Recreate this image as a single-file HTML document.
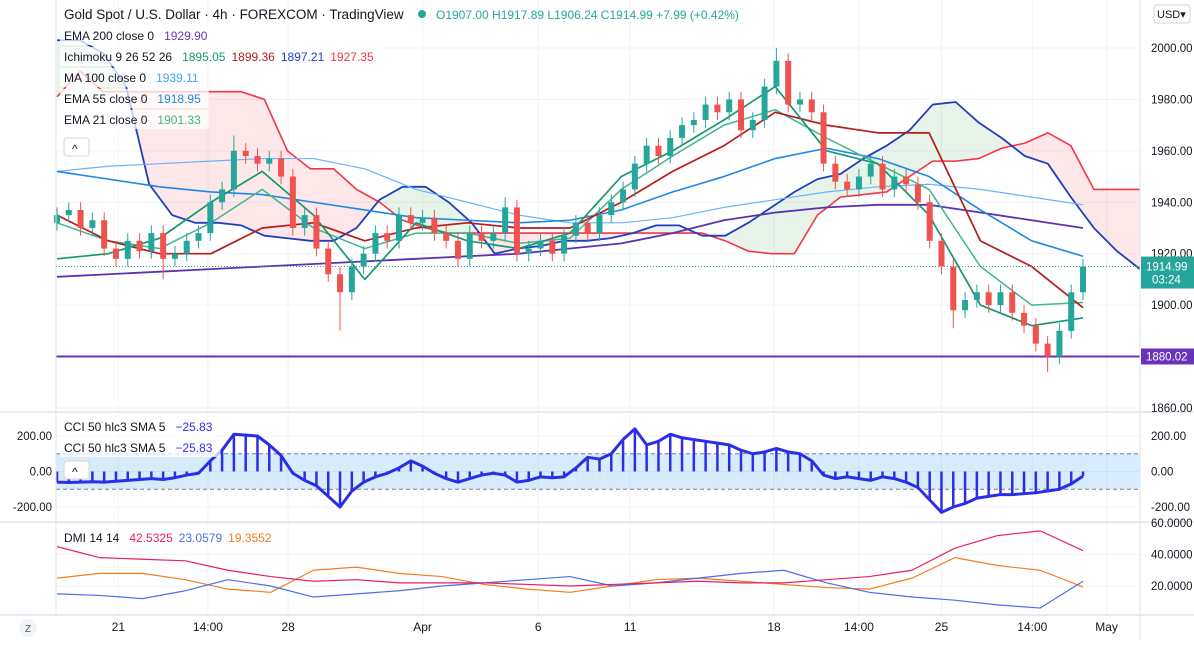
<!DOCTYPE html>
<html><head><meta charset="utf-8"><style>
html,body{margin:0;padding:0;background:#fff;}
body{width:1194px;height:640px;overflow:hidden;font-family:"Liberation Sans",sans-serif;}
svg text{font-family:"Liberation Sans",sans-serif;}
</style></head><body>
<svg id="c" width="1194" height="640" viewBox="0 0 1194 640" xmlns="http://www.w3.org/2000/svg"></svg>
<script>
// ---- data ----
const closes=[1935,1937,1930,1933,1922,1918,1925,1921,1928,1918,1920,1925,1928,1940,1945,1960,1958,1955,1957,1950,1930,1935,1922,1912,1905,1915,1920,1928,1925,1935,1932,1934,1928,1925,1918,1928,1925,1928,1938,1920,1922,1925,1920,1927,1932,1928,1935,1940,1945,1955,1962,1958,1965,1970,1972,1978,1975,1980,1968,1972,1985,1995,1978,1980,1975,1955,1948,1945,1950,1955,1945,1950,1947,1940,1925,1915,1898,1902,1905,1900,1905,1897,1892,1885,1880,1890,1905,1915];
const firstOpen=1932;
const extremeHigh={61:2000,38:1942,15:1966};
const extremeLow={24:1890,84:1874,9:1910,76:1891};
const ema200=[1911,1912,1913,1914,1915,1916,1917,1918,1919,1920,1922,1924,1928,1933,1936,1938,1939,1939,1936,1933,1930];
const ma100=[1952,1954,1955,1956,1957,1957,1953,1945,1940,1935,1932,1932,1934,1938,1941,1944,1946,1947,1945,1942,1939];
const ema55=[1952,1949,1946,1944,1943,1940,1937,1934,1933,1932,1933,1937,1944,1950,1957,1961,1957,1950,1937,1925,1919];
const ema21=[1932,1925,1922,1932,1945,1930,1922,1928,1928,1924,1926,1945,1958,1970,1976,1965,1955,1945,1915,1900,1901];
const tenkan=[1918,1920,1926,1940,1952,1935,1910,1932,1925,1922,1928,1950,1960,1972,1985,1960,1955,1935,1900,1892,1895];
const kijun=[1935,1925,1920,1920,1930,1932,1925,1930,1932,1930,1930,1940,1952,1962,1975,1970,1967,1967,1925,1915,1899];
const spanA=[2003,2003,1998,1985,1947,1935,1932,1932,1931,1927,1926,1925,1925,1930,1941,1946,1946,1940,1932,1920,1922,1923,1925,1925,1926,1928,1931,1931,1927,1927,1932,1938,1944,1949,1951,1957,1962,1968,1978,1979,1971,1965,1958,1955,1942,1930,1921,1914];
const spanB=[1981,1991,1983,1983,1983,1983,1983,1983,1983,1980,1960,1953,1953,1945,1940,1933,1930,1928,1928,1928,1928,1928,1928,1928,1928,1928,1928,1928,1928,1925,1921,1920,1920,1935,1942,1943,1944,1950,1956,1956,1957,1961,1963,1967,1962,1945,1945,1945];
const cci=[-60,-62,-60,-58,-60,-55,-50,-45,-40,-45,-35,-20,-10,60,120,210,205,200,150,90,-10,-50,-80,-140,-200,-110,-60,-30,-10,20,60,30,-10,-40,-60,-40,-20,-10,-20,-60,-50,-30,-35,-30,20,80,70,100,180,240,150,170,210,190,180,170,160,150,120,100,110,130,110,100,60,-20,-40,-30,-40,-50,-30,-40,-60,-90,-160,-230,-200,-180,-150,-140,-130,-130,-125,-120,-110,-100,-70,-26];
const diPlusRed=[45,38,37,36,30,26,23,24,22,22,22,21,20,21,22,23,22,22,24,26,30,44,52,55,42.5];
const adxBlue=[15,14,12,17,24,20,13,15,17,20,22,24,26,20,22,25,28,30,22,16,13,11,8,6,23];
const diMinusOrange=[25,28,28,24,18,16,30,32,28,26,21,18,16,20,24,25,23,21,19,18,25,38,33,30,19.4];
const priceTicks=[2000,1980,1960,1940,1920,1900,1860];
const cciTicks=[200,0,-200];
const dmiTicks=[60,40,20];
const timeLabels=["21","14:00","28","Apr","6","11","18","14:00","25","14:00","May"];
const timeIdx=[5.2,12.8,19.6,31,40.8,48.6,60.8,68,75,82.7,89];

// ---- geometry ----
const svg=document.getElementById('c');
const NS='http://www.w3.org/2000/svg';
const X0=57, X1=1083, PLOT_R=1140;
const step=(X1-X0)/(closes.length-1);
const xi=i=>X0+i*step;
const yP=p=>48+(2000-p)*2.571;
const yC=v=>471.5-v*0.1775;
const yD=v=>523+(60-v)*1.575;
function el(tag,attrs,parent){const e=document.createElementNS(NS,tag);for(const k in attrs)e.setAttribute(k,attrs[k]);(parent||svg).appendChild(e);return e;}
function txt(s,x,y,attrs,parent){const t=el('text',Object.assign({x:x,y:y,'font-size':12,fill:'#131722'},attrs),parent);t.textContent=s;return t;}
function pts(arr,x0,x1,fy){const n=arr.length;return arr.map((v,i)=>[x0+(x1-x0)*i/(n-1),fy(v)]);}
function poly(p,color,w,name){const e=el('polyline',{points:p.map(a=>a.join(',')).join(' '),fill:'none',stroke:color,'stroke-width':w,'stroke-linejoin':'round'});return e;}

// grid
const grid=el('g',{});


priceTicks.concat([1880]).forEach(p=>el('line',{x1:56,x2:PLOT_R,y1:yP(p),y2:yP(p),stroke:'#f0f3fa'},grid));
timeIdx.forEach(i=>{const x=xi(i);el('line',{x1:x,x2:x,y1:0,y2:615,stroke:'#f0f3fa'},grid);});
cciTicks.forEach(v=>el('line',{x1:56,x2:PLOT_R,y1:yC(v),y2:yC(v),stroke:'#f0f3fa'},grid));
dmiTicks.forEach(v=>el('line',{x1:56,x2:PLOT_R,y1:yD(v),y2:yD(v),stroke:'#f0f3fa'},grid));

// cloud
const cloud=el('g',{});


const pa=pts(spanA,X0,PLOT_R,yP), pb=pts(spanB,X0,PLOT_R,yP);
for(let i=0;i<pa.length-1;i++){
  const up=(spanA[i]+spanA[i+1])>=(spanB[i]+spanB[i+1]);
  el('polygon',{points:[pa[i],pa[i+1],pb[i+1],pb[i]].map(a=>a.join(',')).join(' '),fill:up?'rgba(67,160,71,0.12)':'rgba(242,54,69,0.12)',stroke:'none'},cloud);
}
poly(pb,'#f23645',1.6,'ichimoku-lead-b');
poly(pa,'#1e3fbf',1.8,'ichimoku-lead-a');

poly(pts(ema200,X0,X1,yP),'#5b32b0',1.8,'ema200-line');
poly(pts(ma100,X0,X1,yP),'#6cb4f5',1.2,'ma100-line');
poly(pts(ema55,X0,X1,yP),'#1e88e5',1.6,'ema55-line');
poly(pts(ema21,X0,X1,yP),'#3fb68b',1.5,'ema21-line');
poly(pts(kijun,X0,X1,yP),'#b71c1c',1.7,'ichimoku-base-line');
poly(pts(tenkan,X0,X1,yP),'#15986f',1.7,'ichimoku-conversion-line');

// support line
const sup=el('line',{x1:56,x2:PLOT_R,y1:yP(1880.02),y2:yP(1880.02),stroke:'#6a32b8','stroke-width':2});


const cur=el('line',{x1:56,x2:PLOT_R,y1:yP(1914.99),y2:yP(1914.99),stroke:'#26a69a','stroke-width':1,'stroke-dasharray':'1 2'});



// candles
const cg=el('g',{});


closes.forEach((c,i)=>{
  const o=i===0?firstOpen:closes[i-1];
  const up=c>=o, col=up?'#26a69a':'#ef5350';
  const hi=extremeHigh[i]!==undefined?extremeHigh[i]:Math.max(o,c)+3;
  const lo=extremeLow[i]!==undefined?extremeLow[i]:Math.min(o,c)-3;
  const x=xi(i);
  const g=el('g',{},cg);
  
  
  el('line',{x1:x,x2:x,y1:yP(hi),y2:yP(lo),stroke:col,'stroke-width':1},g);
  const yt=yP(Math.max(o,c)), yb=yP(Math.min(o,c));
  el('rect',{x:x-3,y:yt,width:6,height:Math.max(1,yb-yt),fill:col},g);
});

// CCI pane
const cciG=el('g',{});


el('rect',{x:56,y:yC(100),width:PLOT_R-56,height:yC(-100)-yC(100),fill:'rgba(33,150,243,0.18)'},cciG);
el('line',{x1:56,x2:PLOT_R,y1:yC(100),y2:yC(100),stroke:'#787b86','stroke-dasharray':'4 3'},cciG);
el('line',{x1:56,x2:PLOT_R,y1:yC(-100),y2:yC(-100),stroke:'#787b86','stroke-dasharray':'4 3'},cciG);
cci.forEach((v,i)=>{const b=el('line',{x1:xi(i),x2:xi(i),y1:yC(0),y2:yC(v),stroke:'#2a2ee8','stroke-width':2.5},cciG);});
poly(cci.map((v,i)=>[xi(i),yC(v)]),'#2a2ee8',3,'cci-line');

// DMI pane
poly(pts(diMinusOrange,X0,X1,yD),'#f57c1f',1.2,'dmi-orange-line');
poly(pts(adxBlue,X0,X1,yD),'#4a70e8',1.2,'dmi-blue-line');
poly(pts(diPlusRed,X0,X1,yD),'#e91e63',1.2,'dmi-red-line');

// separators
[412,522,615].forEach(y=>el('line',{x1:0,x2:1194,y1:y,y2:y,stroke:'#e0e3eb','stroke-width':1.5}));
el('line',{x1:PLOT_R,x2:PLOT_R,y1:0,y2:640,stroke:'#e0e3eb'});
el('line',{x1:56,x2:56,y1:0,y2:615,stroke:'#e0e3eb'});

// axis labels
const ax=el('g',{});


priceTicks.forEach(p=>txt(p.toFixed(2),1151,yP(p)+4,{'font-size':11.5},ax));
cciTicks.forEach(v=>txt(v.toFixed(2),1151,yC(v)+4,{'font-size':11.5},ax));
cciTicks.forEach(v=>txt(v.toFixed(2),52,yC(v)+4,{'font-size':11.5,'text-anchor':'end'}));
dmiTicks.forEach(v=>txt(v.toFixed(4),1151,yD(v)+4,{'font-size':11.5},ax));
const lb=el('rect',{x:1141,y:yP(1914.99)-10,width:53,height:32,fill:'#26a69a'});


txt('1914.99',1146,yP(1914.99)+4,{'font-size':11.5,fill:'#fff'});
txt('03:24',1152,yP(1914.99)+17,{'font-size':11.5,fill:'#fff'});
const sl=el('rect',{x:1141,y:yP(1880.02)-8,width:53,height:16,fill:'#6a32b8'});


txt('1880.02',1146,yP(1880.02)+4,{'font-size':11.5,fill:'#fff'});

// time axis
const ta=el('g',{});


timeLabels.forEach((s,k)=>txt(s,xi(timeIdx[k]),631,{'font-size':12,'text-anchor':'middle'},ta));
const z=el('circle',{cx:28,cy:628,r:9,fill:'#f0f3fa'});


txt('Z',28,632,{'font-size':10,'text-anchor':'middle',fill:'#555'});

// header & legends
function leg(y,parts,name){
  const g=el('g',{});
  
  
  const bg=el('rect',{x:60,y:y-14,width:10,height:19,fill:'rgba(255,255,255,0.75)'},g);
  let x=64;
  parts.forEach(([s,c],k)=>{const t=txt(s,x,y,{'font-size':12,fill:c},g);x+=t.getComputedTextLength()+(k===0?10:6);});
  bg.setAttribute('width',x-58);
  return g;
}
txt('Gold Spot / U.S. Dollar · 4h · FOREXCOM · TradingView',64,19,{'font-size':13.5,fill:'#131722'});
el('circle',{cx:422,cy:14,r:4,fill:'#26a69a'});
txt('O1907.00 H1917.89 L1906.24 C1914.99 +7.99 (+0.42%)',436,19,{'font-size':12,fill:'#26a69a'});
const usd=el('rect',{x:1154,y:5,width:36,height:18,rx:3,fill:'#fff',stroke:'#d1d4dc'});


txt('USD▾',1157,18,{'font-size':11});
leg(40,[['EMA 200 close 0','#131722'],['1929.90','#6a32b8']],'legend-ema200');
leg(61,[['Ichimoku 9 26 52 26','#131722'],['1895.05','#15986f'],['1899.36','#b71c1c'],['1897.21','#1e3fbf'],['1927.35','#f23645']],'legend-ichimoku');
leg(82,[['MA 100 close 0','#131722'],['1939.11','#42a5f5']],'legend-ma100');
leg(103,[['EMA 55 close 0','#131722'],['1918.95','#1e88e5']],'legend-ema55');
leg(124,[['EMA 21 close 0','#131722'],['1901.33','#3fb68b']],'legend-ema21');
const cb=el('rect',{x:64,y:138,width:25,height:18,rx:3,fill:'#fff',stroke:'#d1d4dc'});


txt('^',72,153,{'font-size':12});
leg(431,[['CCI 50 hlc3 SMA 5','#131722'],['−25.83','#2a2ee8']],'legend-cci');
leg(452,[['CCI 50 hlc3 SMA 5','#131722'],['−25.83','#2a2ee8']],'legend-cci-2');
const cb2=el('rect',{x:64,y:461,width:25,height:18,rx:3,fill:'#fff',stroke:'#d1d4dc'});


txt('^',72,476,{'font-size':12});
leg(542,[['DMI 14 14','#131722'],['42.5325','#e91e63'],['23.0579','#4a70e8'],['19.3552','#f57c1f']],'legend-dmi');
</script>
</body></html>
